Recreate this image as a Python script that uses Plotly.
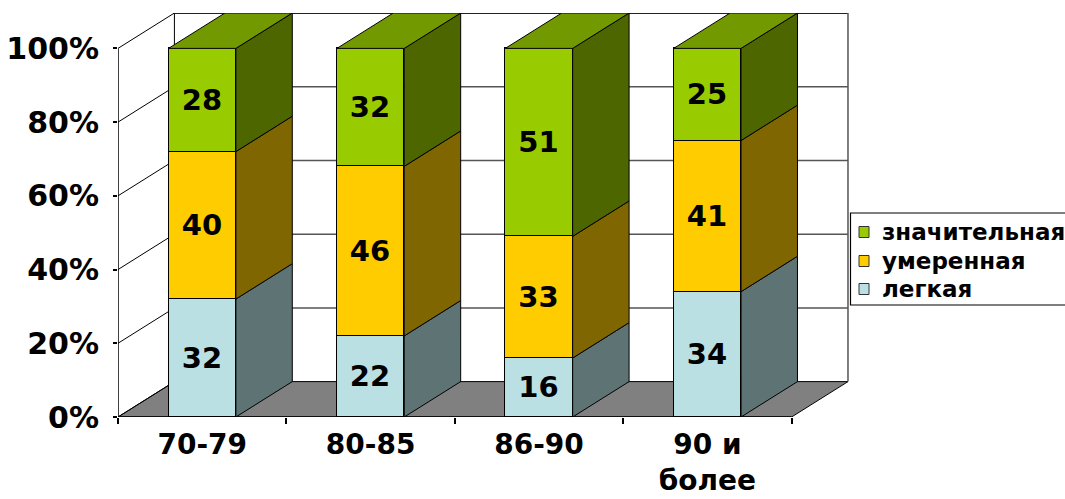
import plotly.graph_objects as go

categories = ["70-79", "80-85", "86-90", "90 и<br>более"]
series_names = ["легкая", "умеренная", "значительная"]
legkaya = [32, 22, 16, 34]
umerennaya = [40, 46, 33, 41]
znachitelnaya = [28, 32, 51, 25]
y_tick_vals = [0, 20, 40, 60, 80, 100]
y_tick_text = ["0%", "20%", "40%", "60%", "80%", "100%"]

series_values = [legkaya, umerennaya, znachitelnaya]
front_colors = ["#BBE0E3", "#FFCC00", "#99CC00"]
side_colors = ["#5E7374", "#806600", "#4D6600"]
top_color = "#739900"

FONT = "DejaVu Sans"
W = 0.4        # bar front width (category units)
DX = 0.335     # depth offset x (category units)
DY = 9.6       # depth offset y (percent units)
n = len(categories)
xs = list(range(n))

# plot-area pixel geometry (used to place the legend box in paper units)
PL, PR, PT, PB = 118, 849, 13, 417
def px_x(px):
    return (px - PL) / (PR - PL)
def px_y(py):
    return (PB - py) / (PB - PT)

fig = go.Figure()

# front faces (stacked bars)
for s, vals in enumerate(series_values):
    fig.add_trace(go.Bar(
        x=xs, y=vals, name=series_names[s], width=W,
        marker=dict(color=front_colors[s], line=dict(color="black", width=1)),
        text=[str(v) for v in vals], textposition="inside", insidetextanchor="middle",
        textangle=0, constraintext="none",
        textfont=dict(family=FONT, size=29, color="black", weight="bold"),
        hoverinfo="skip", showlegend=False,
    ))

# side and top faces computed from the stacked values
for i in xs:
    base = 0
    for s, vals in enumerate(series_values):
        top = base + vals[i]
        xr = i + W / 2
        fig.add_trace(go.Scatter(
            x=[xr, xr + DX, xr + DX, xr, xr],
            y=[base, base + DY, top + DY, top, base],
            mode="lines", fill="toself", fillcolor=side_colors[s],
            line=dict(color="black", width=1), showlegend=False, hoverinfo="skip",
        ))
        base = top
    xl = i - W / 2
    xr = i + W / 2
    fig.add_trace(go.Scatter(
        x=[xl, xr, xr + DX, xl + DX, xl],
        y=[base, base, base + DY, base + DY, base],
        mode="lines", fill="toself", fillcolor=top_color,
        line=dict(color="black", width=1), showlegend=False, hoverinfo="skip",
    ))

x0, x1 = -0.5, n - 0.5
ymax = y_tick_vals[-1]
shapes = []
# floor
shapes.append(dict(type="path", layer="below",
                   path=f"M {x0},0 L {x1},0 L {x1+DX},{DY} L {x0+DX},{DY} Z",
                   fillcolor="#808080", line=dict(color="black", width=1)))
# back wall gridlines
for v in y_tick_vals[1:]:
    shapes.append(dict(type="line", layer="below", x0=x0 + DX, x1=x1 + DX, y0=v + DY, y1=v + DY,
                       line=dict(color="#222" if v == ymax else "#555", width=2 if v == ymax else 1.5)))
# left wall diagonals
for v in y_tick_vals:
    shapes.append(dict(type="line", layer="below", x0=x0, x1=x0 + DX, y0=v, y1=v + DY,
                       line=dict(color="black", width=1)))
# back wall verticals
shapes.append(dict(type="line", layer="below", x0=x0 + DX, x1=x0 + DX, y0=DY, y1=ymax + DY,
                   line=dict(color="black", width=1)))
shapes.append(dict(type="line", layer="below", x0=x1 + DX, x1=x1 + DX, y0=DY, y1=ymax + DY,
                   line=dict(color="#555", width=1.5)))
# front value axis line
shapes.append(dict(type="line", layer="below", x0=x0, x1=x0, y0=0, y1=ymax,
                   line=dict(color="black", width=1.5)))
# front category axis line
shapes.append(dict(type="line", layer="above", x0=x0, x1=x1, y0=0, y1=0,
                   line=dict(color="black", width=1.5)))

# legend (box, swatches, labels) - top entry is the top stack segment
shapes.append(dict(type="rect", xref="paper", yref="paper", layer="above",
                   x0=px_x(850.5), x1=px_x(1075), y0=px_y(305), y1=px_y(213),
                   fillcolor="white", line=dict(color="black", width=1.2)))
annotations = []
legend_rows_y = [232, 261, 289]
for row, s in enumerate(reversed(range(len(series_names)))):
    cy = legend_rows_y[row]
    shapes.append(dict(type="rect", xref="paper", yref="paper", layer="above",
                       x0=px_x(859), x1=px_x(869), y0=px_y(cy + 5.5), y1=px_y(cy - 5.5),
                       fillcolor=front_colors[s], line=dict(color="#333", width=1)))
    annotations.append(dict(xref="paper", yref="paper", x=px_x(880), y=px_y(cy),
                            xanchor="left", yanchor="middle", showarrow=False,
                            text=series_names[s],
                            font=dict(family=FONT, size=23, color="black", weight="bold")))

fig.update_layout(
    width=1065, height=499, autosize=False,
    margin=dict(l=PL, r=1065 - PR, t=PT, b=499 - PB, pad=0, autoexpand=False),
    paper_bgcolor="white", plot_bgcolor="white",
    barmode="stack", bargap=0,
    shapes=shapes, annotations=annotations,
    showlegend=False,
    font=dict(family=FONT, color="black"),
)
fig.update_xaxes(
    range=[x0, x1 + DX + 0.006], tickmode="array", tickvals=xs, ticktext=categories,
    ticks="", showgrid=False, zeroline=False, showline=False, automargin=False,
    tickfont=dict(family=FONT, size=28, color="black", weight="bold"),
    ticklabelstandoff=8,
    minor=dict(ticks="outside", tickmode="array", tickvals=[x0 + k for k in range(n + 1)],
               ticklen=6, tickcolor="black", tickwidth=1.5, showgrid=False),
    fixedrange=True,
)
fig.update_yaxes(
    range=[0, ymax + DY], tickmode="array", tickvals=y_tick_vals, ticktext=y_tick_text,
    ticks="outside", ticklen=4, tickcolor="black", tickwidth=1.5,
    showgrid=False, zeroline=False, showline=False, automargin=False,
    tickfont=dict(family=FONT, size=30, color="black", weight="bold"),
    ticklabelstandoff=8,
    fixedrange=True,
)

fig.write_html("out.html")
